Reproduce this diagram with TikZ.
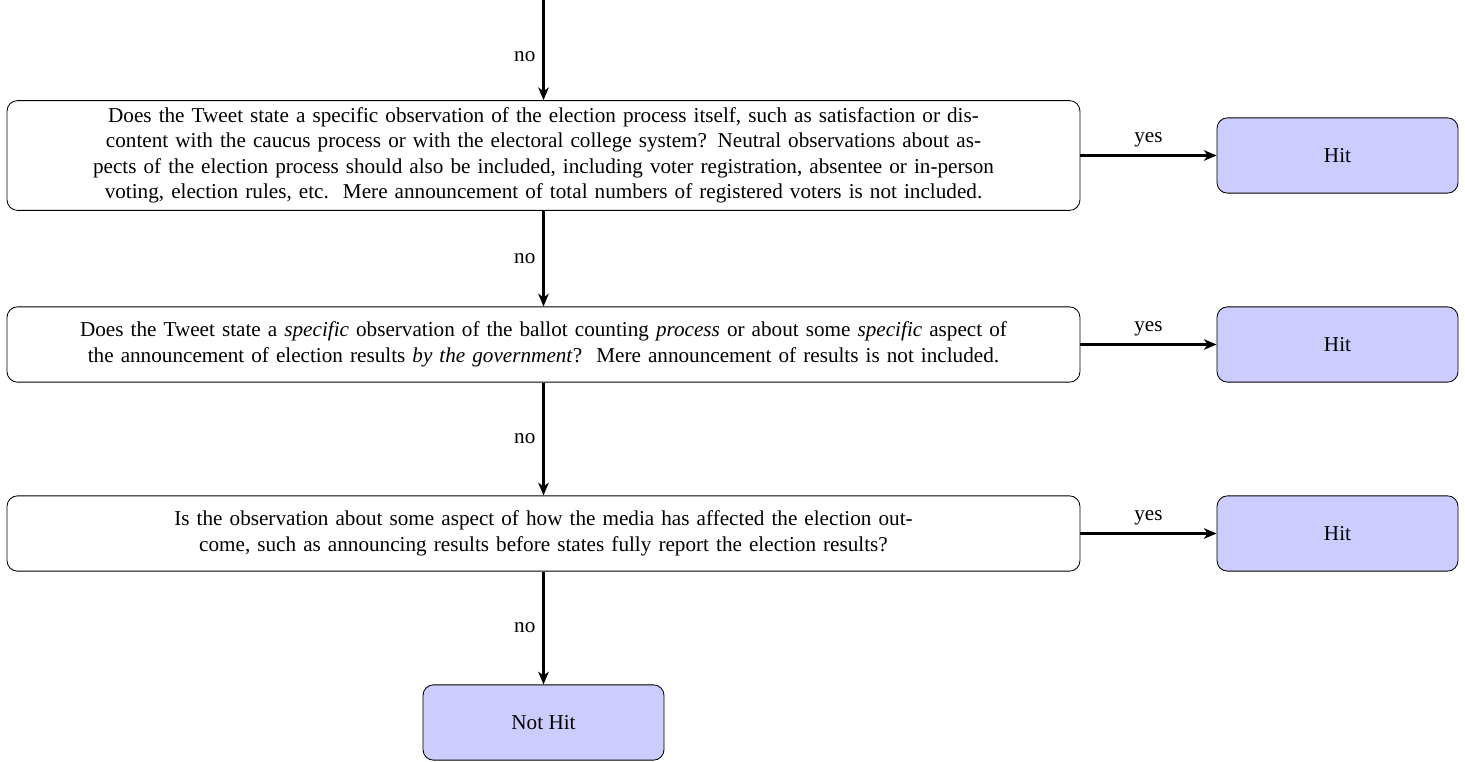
\documentclass[tikz,border=0pt]{standalone}
\usepackage{fontspec}
\setmainfont{Liberation Serif}
\usetikzlibrary{arrows.meta}
\begin{document}
\begin{tikzpicture}[x=0.4722pt,y=-0.4722pt,
  qbox/.style={draw, rounded corners=5pt, align=center, text width=500pt, minimum width=506.6pt, inner xsep=3.33pt},
  hitbox/.style={draw, fill=blue!20, rounded corners=5pt, minimum width=4cm, minimum height=1.25cm, align=center},
  flow/.style={line width=1pt, -{Stealth[length=6pt,width=5pt,inset=1.8pt]}}]
\useasboundingbox (0,0) rectangle (1465,762);
\node[qbox, minimum height=51.5pt] (q1) at (543.5,155.5) {Does the Tweet state a specific observation of the election process itself, such as satisfaction or dis-\\
content with the caucus process or with the electoral college system? Neutral observations about as-\\
pects of the election process should also be included, including voter registration, absentee or in-person\\
voting, election rules, etc.\ \ Mere announcement of total numbers of registered voters is not included.};
\node[hitbox] (h1) at (1337.5,155.5) {Hit};
\node[qbox, minimum height=1.25cm] (q2) at (543.5,344.5) {Does the Tweet state a \emph{specific} observation of the ballot counting \emph{process} or about some \emph{specific} aspect of\\
the announcement of election results \emph{by the government}?\ \ Mere announcement of results is not included.};
\node[hitbox] (h2) at (1337.5,344.5) {Hit};
\node[qbox, minimum height=1.25cm] (q3) at (543.5,533.5) {Is the observation about some aspect of how the media has affected the election out-\\
come, such as announcing results before states fully report the election results?};
\node[hitbox] (h3) at (1337.5,533.5) {Hit};
\node[hitbox] (nh) at (543.5,722.5) {Not Hit};
\coordinate (top) at (543.5,0);
\draw[flow] (top) -- node[left, pos=0.57] {no} (q1);
\draw[flow] (q1) -- node[above] {yes} (h1);
\draw[flow] (q1) -- node[left] {no} (q2);
\draw[flow] (q2) -- node[above] {yes} (h2);
\draw[flow] (q2) -- node[left] {no} (q3);
\draw[flow] (q3) -- node[above] {yes} (h3);
\draw[flow] (q3) -- node[left] {no} (nh);
\end{tikzpicture}
\end{document}
